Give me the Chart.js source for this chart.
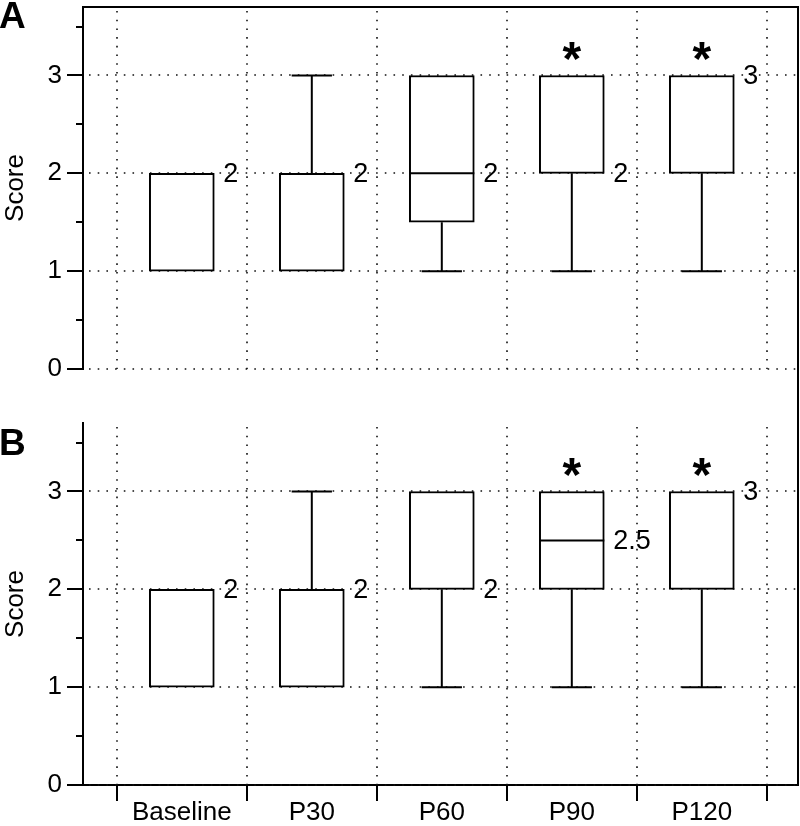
<!DOCTYPE html>
<html>
<head>
<meta charset="utf-8">
<script src="https://cdn.jsdelivr.net/npm/chart.js@4.4.0/dist/chart.umd.min.js"></script>
<style>
  body { margin: 0; background: #fff; }
  .panel { position: absolute; left: 0; width: 800px; }
</style>
</head>
<body>
<div class="panel" style="top:0;height:400px"><canvas id="chartA" width="800" height="400"></canvas></div>
<div class="panel" style="top:400px;height:426px"><canvas id="chartB" width="800" height="426"></canvas></div>
<script>
const categories = ["Baseline", "P30", "P60", "P90", "P120"];

// panel A
const minA = [1, 1, 1, 1, 1];
const q1A = [1, 1, 1.5, 2, 2];
const medA = [2, 2, 2, 2, 3];
const q3A = [2, 2, 3, 3, 3];
const maxA = [2, 3, 3, 3, 3];

// panel B
const minB = [1, 1, 1, 1, 1];
const q1B = [1, 1, 2, 2, 2];
const medB = [2, 2, 2, 2.5, 3];
const q3B = [2, 2, 3, 3, 3];
const maxB = [2, 3, 3, 3, 3];

const significant = [false, false, false, true, true];
const starLevel = 3.3;
const yTicks = [0, 0.5, 1, 1.5, 2, 2.5, 3, 3.5];
const yGrid = [0, 1, 2, 3];
const xBounds = [-0.5, 0.5, 1.5, 2.5, 3.5, 4.5];

const FONT = "'Liberation Sans', Arial, Helvetica, sans-serif";

const decor = {
  id: "decor",
  beforeDatasetsDraw(chart, args, o) {
    const { ctx, chartArea: a, scales: { x, y } } = chart;
    ctx.save();
    // dotted grid
    ctx.strokeStyle = "#111";
    ctx.lineWidth = 1.6;
    ctx.setLineDash([1.6, 7.1]);
    yGrid.forEach(v => {
      const py = Math.round(y.getPixelForValue(v));
      ctx.beginPath(); ctx.moveTo(a.left + 6, py); ctx.lineTo(a.right, py); ctx.stroke();
    });
    xBounds.forEach(v => {
      const px = Math.round(x.getPixelForValue(v));
      ctx.beginPath(); ctx.moveTo(px, a.top + 4); ctx.lineTo(px, a.bottom); ctx.stroke();
    });
    ctx.setLineDash([]);
    // y tick marks
    ctx.strokeStyle = "#000";
    ctx.lineWidth = 2;
    yTicks.forEach(v => {
      const py = Math.round(y.getPixelForValue(v));
      const len = Number.isInteger(v) ? 16 : 7;
      ctx.beginPath(); ctx.moveTo(a.left - len, py); ctx.lineTo(a.left, py); ctx.stroke();
    });
    // frame
    ctx.beginPath();
    if (o.top) { ctx.moveTo(a.left - 1, a.top); ctx.lineTo(a.right, a.top); }
    ctx.moveTo(a.right, o.top ? a.top - 1 : 0);
    ctx.lineTo(a.right, o.top ? chart.height : a.bottom + 1);
    ctx.stroke();
    if (o.xTicks) {
      xBounds.forEach(v => {
        const px = Math.round(x.getPixelForValue(v));
        ctx.beginPath(); ctx.moveTo(px, a.bottom); ctx.lineTo(px, a.bottom + 16); ctx.stroke();
      });
    }
    // panel letter
    ctx.fillStyle = "#000";
    ctx.font = "bold 37px " + FONT;
    ctx.textAlign = "left";
    ctx.textBaseline = "alphabetic";
    ctx.fillText(o.letter, -1, o.letterY);
    ctx.restore();
  },
  afterDatasetsDraw(chart, args, o) {
    const { ctx, scales: { x, y } } = chart;
    const meta = chart.getDatasetMeta(0);
    ctx.save();
    ctx.strokeStyle = "#000";
    ctx.fillStyle = "#000";
    ctx.lineWidth = 2;
    meta.data.forEach((bar, i) => {
      const { x: cx, width } = bar.getProps(["x", "width"], true);
      const left = cx - width / 2, right = cx + width / 2;
      const cap = width * 0.31;
      const pMin = y.getPixelForValue(o.lo[i]), pQ1 = y.getPixelForValue(o.q1[i]);
      const pQ3 = y.getPixelForValue(o.q3[i]), pMax = y.getPixelForValue(o.hi[i]);
      const pMed = y.getPixelForValue(o.med[i]);
      ctx.beginPath();
      if (o.hi[i] > o.q3[i]) {
        ctx.moveTo(cx, pQ3); ctx.lineTo(cx, pMax);
        ctx.moveTo(cx - cap, pMax); ctx.lineTo(cx + cap, pMax);
      }
      if (o.lo[i] < o.q1[i]) {
        ctx.moveTo(cx, pQ1); ctx.lineTo(cx, pMin);
        ctx.moveTo(cx - cap, pMin); ctx.lineTo(cx + cap, pMin);
      }
      if (o.med[i] > o.q1[i] && o.med[i] < o.q3[i]) {
        ctx.moveTo(left, pMed); ctx.lineTo(right, pMed);
      }
      ctx.stroke();
      ctx.font = "27px " + FONT;
      ctx.textAlign = "left";
      ctx.textBaseline = "middle";
      ctx.fillText(String(o.med[i]), right + 9, pMed + 1);
      if (significant[i]) {
        ctx.font = "bold 48px " + FONT;
        ctx.textAlign = "center";
        ctx.textBaseline = "alphabetic";
        ctx.fillText("*", cx, y.getPixelForValue(starLevel) + 29);
      }
    });
    ctx.restore();
  }
};

function makePanel(id, letter, lo, q1, med, q3, hi, showX) {
  const padTop = showX ? 23 : 7;
  return new Chart(document.getElementById(id), {
    type: "bar",
    data: {
      datasets: [{
        data: categories.map((c, i) => ({ x: i, y: [q1[i], q3[i]] })),
        backgroundColor: "#fff",
        borderColor: "#000",
        borderWidth: 2,
        borderSkipped: false,
        barThickness: 65
      }]
    },
    options: {
      responsive: false,
      animation: false,
      layout: { padding: { top: padTop, right: 2, left: 0, bottom: showX ? 0 : 31 } },
      plugins: {
        legend: { display: false },
        tooltip: { enabled: false },
        decor: { letter, letterY: showX ? 55 : 28, top: !showX, xTicks: showX, lo, q1, med, q3, hi }
      },
      scales: {
        x: {
          type: "linear",
          display: showX,
          offset: false,
          min: -0.76,
          max: 4.74,
          afterBuildTicks: s => { s.ticks = categories.map((c, i) => ({ value: i })); },
          afterFit: s => {
            s.height = showX ? 41 : 0;
            s.paddingLeft = 0; s.paddingRight = 0;
          },
          grid: { display: false, drawTicks: false, offset: false },
          border: { display: true, width: 2, color: "#000" },
          ticks: {
            autoSkip: false, maxRotation: 0, minRotation: 0, padding: 12,
            color: "#000", font: { size: 26, family: FONT },
            callback: v => categories[v]
          }
        },
        y: {
          min: 0,
          max: 3.7,
          afterBuildTicks: s => { s.ticks = yTicks.map(v => ({ value: v })); },
          afterFit: s => { s.width = 83; s.paddingTop = 0; s.paddingBottom = 0; },
          grid: { display: false, drawTicks: false },
          border: { display: true, width: 2, color: "#000" },
          ticks: {
            padding: 21, color: "#000", font: { size: 26, family: FONT },
            callback: v => Number.isInteger(v) ? String(v) : ""
          },
          title: { display: true, text: "Score", color: "#000", font: { size: 26, family: FONT }, padding: 0 }
        }
      }
    },
    plugins: [decor]
  });
}

makePanel("chartA", "A", minA, q1A, medA, q3A, maxA, false);
makePanel("chartB", "B", minB, q1B, medB, q3B, maxB, true);
</script>
</body>
</html>
